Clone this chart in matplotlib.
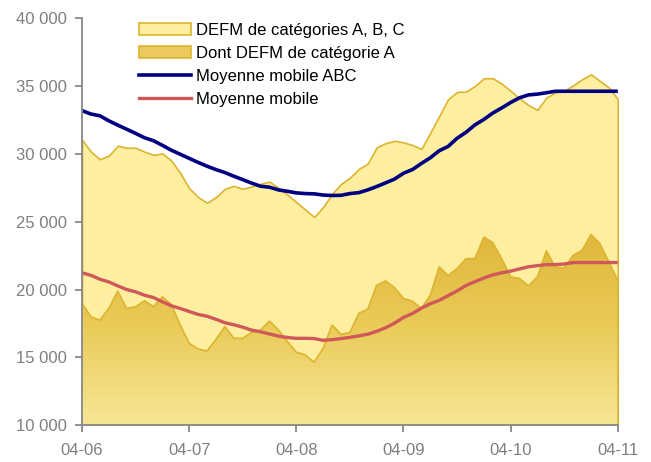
import matplotlib
matplotlib.use("Agg")
import matplotlib.pyplot as plt
from matplotlib.patches import Polygon, Patch
from matplotlib.lines import Line2D
from matplotlib.colors import LinearSegmentedColormap
import numpy as np

# mois d'avril 2006 à avril 2011 (61 points mensuels)
tick_labels = ["04-06", "04-07", "04-08", "04-09", "04-10", "04-11"]

defm_abc = [31050, 30170, 29610, 29880, 30610, 30460, 30460, 30170, 29930, 30050,
            29510, 28600, 27480, 26820, 26400, 26820, 27430, 27650, 27430, 27600,
            27800, 27960, 27500, 27000, 26450, 25900, 25350, 26080, 27060, 27790,
            28250, 28900, 29300, 30490, 30800, 30970, 30860, 30660, 30370, 31570,
            32800, 34040, 34580, 34610, 35020, 35590, 35590, 35190, 34660, 34100,
            33600, 33260, 34170, 34540, 34660, 35070, 35510, 35880, 35390, 34900,
            34040]

defm_a = [18970, 17990, 17740, 18600, 19880, 18600, 18730, 19170, 18730, 19460,
          18900, 17380, 16030, 15610, 15460, 16320, 17260, 16400, 16400, 16840,
          17010, 17670, 17010, 16150, 15370, 15170, 14630, 15660, 17380, 16690,
          16820, 18240, 18550, 20320, 20640, 20130, 19340, 19140, 18600, 19580,
          21670, 21030, 21540, 22280, 22280, 23870, 23460, 22280, 20940, 20810,
          20270, 20940, 22850, 21670, 21600, 22520, 22890, 24070, 23380, 22040,
          20680]

mm_abc = [33200, 32950, 32820, 32450, 32130, 31830, 31520, 31200, 30980, 30640,
          30280, 29980, 29680, 29380, 29100, 28850, 28630, 28360, 28110, 27850,
          27620, 27550, 27350, 27250, 27130, 27080, 27060, 26970, 26940, 26950,
          27080, 27150, 27350, 27600, 27870, 28150, 28580, 28850, 29300, 29720,
          30240, 30560, 31160, 31600, 32150, 32550, 33020, 33400, 33800, 34150,
          34360, 34420, 34520, 34630, 34630, 34630, 34630, 34630, 34630, 34630,
          34630]

mm_a = [21230, 21050, 20760, 20560, 20270, 20000, 19830, 19580, 19410, 19090,
        18800, 18600, 18380, 18160, 18030, 17800, 17550, 17400, 17220, 17000,
        16880, 16720, 16560, 16460, 16400, 16400, 16380, 16250, 16300, 16380,
        16470, 16580, 16700, 16920, 17180, 17520, 17940, 18230, 18620, 18950,
        19200, 19550, 19900, 20300, 20580, 20850, 21080, 21230, 21360, 21520,
        21680, 21760, 21840, 21840, 21880, 21990, 21990, 21990, 21990, 21990,
        21990]

plt.rcParams['font.family'] = ['Liberation Sans', 'DejaVu Sans']

x = np.arange(len(defm_abc))
ymin, ymax = 10000, 40000

fig = plt.figure(figsize=(6.51, 4.62), dpi=100)
ax = fig.add_axes([0.126, 0.080, 0.823, 0.880])

edge = '#DDB430'

# aire ABC (jaune clair)
ax.fill_between(x, ymin, defm_abc, facecolor='#FDEEA0', edgecolor=edge, linewidth=1.2, zorder=1)

# aire catégorie A avec dégradé
verts = [(x[0], ymin)] + list(zip(x, defm_a)) + [(x[-1], ymin)]
poly = Polygon(verts, closed=True, facecolor='none', edgecolor='none')
ax.add_patch(poly)
cmap = LinearSegmentedColormap.from_list('or', ['#F8E697', '#EACB58', '#DFB63A'])
grad = np.linspace(0, 1, 256).reshape(-1, 1)
im = ax.imshow(grad, cmap=cmap, origin='lower', aspect='auto',
               extent=[x[0], x[-1], ymin, 24500], zorder=2)
im.set_clip_path(poly)
ax.plot(x, defm_a, color=edge, linewidth=1.2, zorder=3)
ax.plot([x[-1], x[-1]], [ymin, defm_a[-1]], color=edge, linewidth=1.2, zorder=3)

# moyennes mobiles
ax.plot(x, mm_abc, color='#000080', linewidth=2.6, zorder=4, solid_capstyle='butt')
ax.plot(x, mm_a, color='#CF5858', linewidth=2.4, zorder=4, solid_capstyle='butt')

ax.set_xlim(x[0], x[-1])
ax.set_ylim(ymin, ymax)

ax.set_xticks(x[::12])
ax.set_xticklabels(tick_labels)
yt = np.arange(10000, 40001, 5000)
ax.set_yticks(yt)
ax.set_yticklabels([f"{v:,}".replace(",", " ") for v in yt])

grey = '#888888'
for s in ['top', 'right']:
    ax.spines[s].set_visible(False)
for s in ['left', 'bottom']:
    ax.spines[s].set_color(grey)
    ax.spines[s].set_linewidth(1.3)
    ax.spines[s].set_zorder(5)
ax.tick_params(axis='both', colors=grey, labelcolor='#7F7F7F', labelsize=12,
               length=5, width=1.3, direction='out')
ax.tick_params(axis='x', pad=8)
ax.tick_params(axis='y', pad=6)

handles = [
    Patch(facecolor='#FDEEA0', edgecolor=edge, linewidth=1.2),
    Patch(facecolor='#EBCB5E', edgecolor=edge, linewidth=1.2),
    Line2D([], [], color='#000080', linewidth=2.6),
    Line2D([], [], color='#CF5858', linewidth=2.4),
]
labels = ["DEFM de catégories A, B, C", "Dont DEFM de catégorie A",
          "Moyenne mobile ABC", "Moyenne mobile"]
fig.legend(handles, labels, loc='upper left', bbox_to_anchor=(139 / 651, 1 - 23 / 462),
           frameon=False, fontsize=12, handlelength=3.1, handleheight=0.7,
           handletextpad=0.3, labelspacing=0.48, borderpad=0, borderaxespad=0)

fig.savefig("out.png", dpi=100)
